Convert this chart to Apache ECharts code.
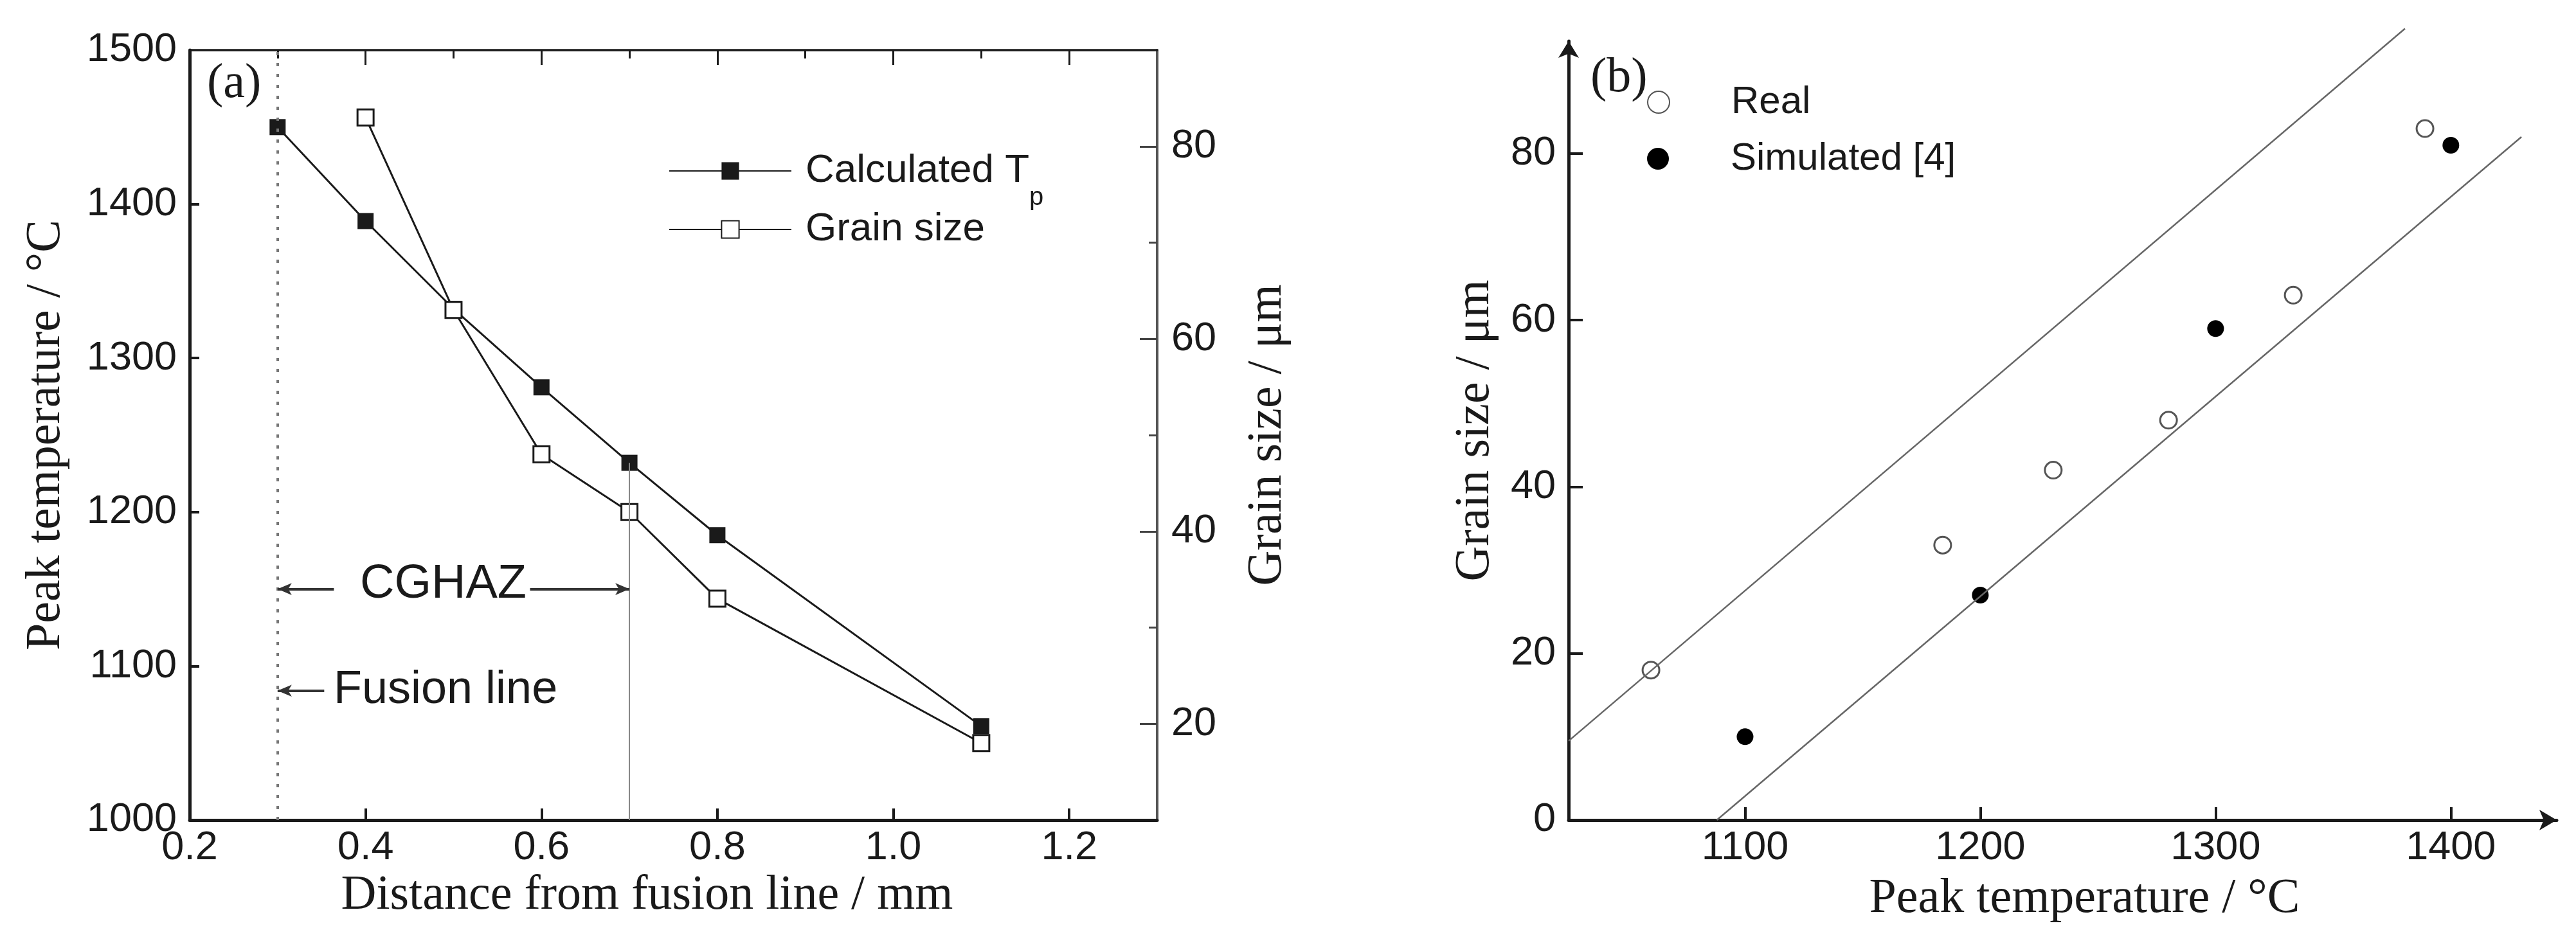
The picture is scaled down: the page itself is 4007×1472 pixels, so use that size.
<!DOCTYPE html>
<html>
<head>
<meta charset="utf-8">
<script src="https://cdn.jsdelivr.net/npm/echarts@6/dist/echarts.min.js"></script>
<style>
    html, body { margin: 0; padding: 0; background: #fff; }
    #chart-main { width: 4007px; height: 1472px; }
</style>
</head>
<body>
<div id="chart-main"></div>
<script>
    // (a) distance from fusion line vs peak temperature / grain size
    var distance = [0.3, 0.4, 0.5, 0.6, 0.7, 0.8, 1.1];
    var peakTemp = [1450, 1389, 1332, 1281, 1232, 1185, 1061];
    var grainDistance = [0.4, 0.5, 0.6, 0.7, 0.8, 1.1];
    var grainSize = [83, 63, 48, 42, 33, 18];

    // (b) peak temperature vs grain size
    var realTemp = [1060, 1184, 1231, 1280, 1333, 1389];
    var realGrain = [18, 33, 42, 48, 63, 83];
    var simTemp = [1100, 1200, 1300, 1400];
    var simGrain = [10, 27, 59, 81];
    var upperBound = [[1025, 9.5], [1380.5, 95]];
    var lowerBound = [[1088, 0], [1430, 82]];

    // tick values
    var xTicksA = [0.2, 0.4, 0.6, 0.8, 1.0, 1.2];
    var xMinorA = [0.3, 0.5, 0.7, 0.9, 1.1];
    var tempTicksA = [1000, 1100, 1200, 1300, 1400, 1500];
    var grainTicksA = [20, 40, 60, 80];
    var grainMinorA = [30, 50, 70];
    var tempTicksB = [1100, 1200, 1300, 1400];
    var grainTicksB = [0, 20, 40, 60, 80];

    var SANS = '"Liberation Sans", Arial, sans-serif';
    var SERIF = '"Liberation Serif", "Times New Roman", serif';
    var INK = '#1a1a1a';

    function zip(xs, ys) {
        return xs.map(function (x, i) { return [x, ys[i]]; });
    }
    function ticks(values, len, width, color) {
        return {show: true, inside: true, customValues: values, length: len,
            lineStyle: {color: color || INK, width: width || 3}};
    }
    function labels(values, margin, fmt) {
        return {show: true, customValues: values, margin: margin, fontFamily: SANS,
            fontSize: 63, color: INK, formatter: fmt || function (v) { return String(v); }};
    }
    function axisName(pad) {
        return {fontFamily: SERIF, fontSize: 76, color: INK, padding: pad || 0};
    }

    var option = {
        animation: false,
        backgroundColor: '#fff',
        textStyle: {fontFamily: SANS},
        grid: [
            {left: 295, top: 78, width: 1505, height: 1198, outerBoundsMode: 'none'},
            {left: 2440, top: 64, width: 1537, height: 1212, outerBoundsMode: 'none'}
        ],
        xAxis: [
            {
                gridIndex: 0, type: 'value', position: 'bottom', min: 0.2, max: 1.3,
                axisLine: {onZero: false, lineStyle: {color: INK, width: 5}},
                axisTick: ticks(xTicksA, 18, 4),
                axisLabel: labels(xTicksA, 12, function (v) { return v.toFixed(1); }),
                splitLine: {show: false},
                name: 'Distance from fusion line / mm', nameLocation: 'middle', nameGap: 69,
                nameTextStyle: axisName([0, 82, 0, 0])
            },
            {
                gridIndex: 0, type: 'value', position: 'top', min: 0.2, max: 1.3,
                axisLine: {onZero: false, lineStyle: {color: INK, width: 3.5}},
                axisTick: ticks(xTicksA.slice(1), 23, 3),
                axisLabel: {show: false}, splitLine: {show: false}
            },
            {
                gridIndex: 0, type: 'value', position: 'top', min: 0.2, max: 1.3,
                axisLine: {show: false},
                axisTick: ticks(xMinorA, 13, 3),
                axisLabel: {show: false}, splitLine: {show: false}
            },
            {
                gridIndex: 1, type: 'value', position: 'bottom', min: 1025, max: 1445,
                axisLine: {onZero: false, symbol: ['none', 'arrow'], symbolSize: [24, 27],
                    lineStyle: {color: INK, width: 5}},
                axisTick: ticks(tempTicksB, 20, 4),
                axisLabel: labels(tempTicksB, 12),
                splitLine: {show: false},
                name: 'Peak temperature / °C', nameLocation: 'middle', nameGap: 85,
                nameTextStyle: axisName([0, 0, 0, 68])
            }
        ],
        yAxis: [
            {
                gridIndex: 0, type: 'value', position: 'left', min: 1000, max: 1500,
                axisLine: {onZero: false, lineStyle: {color: INK, width: 5}},
                axisTick: ticks([1100, 1200, 1300, 1400], 15, 4),
                axisLabel: labels(tempTicksA, 20),
                splitLine: {show: false},
                name: 'Peak temperature / °C', nameLocation: 'middle', nameGap: 185, nameRotate: 90,
                nameTextStyle: axisName()
            },
            {
                gridIndex: 0, type: 'value', position: 'right', min: 10, max: 90,
                axisLine: {onZero: false, lineStyle: {color: '#555', width: 4}},
                axisTick: ticks(grainTicksA, 27, 3, '#444'),
                axisLabel: labels(grainTicksA, 22),
                splitLine: {show: false},
                name: 'Grain size / μm', nameLocation: 'middle', nameGap: 134, nameRotate: 90,
                nameTextStyle: axisName()
            },
            {
                gridIndex: 0, type: 'value', position: 'right', min: 10, max: 90,
                axisLine: {show: false},
                axisTick: ticks(grainMinorA, 13, 3, '#444'),
                axisLabel: {show: false}, splitLine: {show: false}
            },
            {
                gridIndex: 1, type: 'value', position: 'left', min: 0, max: 93.5,
                axisLine: {onZero: false, symbol: ['none', 'arrow'], symbolSize: [24, 26],
                    lineStyle: {color: INK, width: 5}},
                axisTick: ticks(grainTicksB, 22, 4),
                axisLabel: labels(grainTicksB, 20),
                splitLine: {show: false},
                name: 'Grain size / μm', nameLocation: 'middle', nameGap: 107, nameRotate: 90,
                nameTextStyle: axisName()
            }
        ],
        legend: [
            {
                data: ['Calculated Tp'], left: 1040, top: 204, padding: 0,
                itemWidth: 190, itemHeight: 34, selectedMode: false,
                formatter: function () { return '{n|Calculated T}{s|p}'; },
                textStyle: {
                    padding: [0, 0, 0, 17],
                    rich: {
                        n: {fontFamily: SANS, fontSize: 62, lineHeight: 70, color: INK},
                        s: {fontFamily: SANS, fontSize: 40, lineHeight: 40, padding: [84, 0, 0, 0], color: INK}
                    }
                }
            },
            {
                data: ['Grain size'], left: 1040, top: 322, padding: 0,
                itemWidth: 190, itemHeight: 34, selectedMode: false,
                textStyle: {fontFamily: SANS, fontSize: 62, lineHeight: 70, color: INK, padding: [0, 0, 0, 17]}
            },
            {
                data: ['Real'], left: 2562, top: 126, padding: 0,
                itemWidth: 34, itemHeight: 34, selectedMode: false,
                textStyle: {fontFamily: SANS, fontSize: 60, lineHeight: 66, color: INK, padding: [0, 0, 0, 91]}
            },
            {
                data: ['Simulated [4]'], left: 2562, top: 214, padding: 0,
                itemWidth: 34, itemHeight: 34, selectedMode: false,
                textStyle: {fontFamily: SANS, fontSize: 60, lineHeight: 66, color: INK, padding: [0, 0, 0, 91]}
            }
        ],
        graphic: [
            {type: 'text', x: 322, y: 131, style: {text: '(a)', fontFamily: SERIF, fontSize: 76, fill: INK, verticalAlign: 'middle'}},
            {type: 'text', x: 2474, y: 122, style: {text: '(b)', fontFamily: SERIF, fontSize: 76, fill: INK, verticalAlign: 'middle'}},
            {type: 'text', x: 560, y: 910, style: {text: 'CGHAZ', fontFamily: SANS, fontSize: 74, fill: INK, verticalAlign: 'middle'}},
            {type: 'text', x: 519, y: 1074, style: {text: 'Fusion line', fontFamily: SANS, fontSize: 72, fill: INK, verticalAlign: 'middle'}}
        ],
        series: [
            {
                name: 'Calculated Tp', type: 'line', xAxisIndex: 0, yAxisIndex: 0,
                data: zip(distance, peakTemp),
                symbol: 'rect', symbolSize: 25,
                itemStyle: {color: INK, opacity: 1},
                lineStyle: {color: INK, width: 3},
                markLine: {
                    silent: true, symbol: ['none', 'none'], symbolSize: [14, 22],
                    label: {show: false},
                    lineStyle: {color: '#333', width: 4, type: 'solid'},
                    data: [
                        [{coord: [0.3, 1000], lineStyle: {color: '#777', width: 4, type: [5, 12]}}, {coord: [0.3, 1500]}],
                        [{coord: [0.7, 1000], lineStyle: {color: '#888', width: 2, type: 'solid'}}, {coord: [0.7, 1232]}],
                        [{coord: [0.364, 1150]}, {coord: [0.3, 1150], symbol: 'arrow'}],
                        [{coord: [0.587, 1150]}, {coord: [0.7, 1150], symbol: 'arrow'}],
                        [{coord: [0.353, 1084]}, {coord: [0.3, 1084], symbol: 'arrow'}]
                    ]
                }
            },
            {
                name: 'Grain size', type: 'line', xAxisIndex: 0, yAxisIndex: 1,
                data: zip(grainDistance, grainSize),
                symbol: 'rect', symbolSize: 25,
                itemStyle: {color: '#fff', borderColor: INK, borderWidth: 3, opacity: 1},
                lineStyle: {color: INK, width: 3}
            },
            {
                name: 'Real', type: 'scatter', xAxisIndex: 3, yAxisIndex: 3,
                data: zip(realTemp, realGrain),
                symbol: 'circle', symbolSize: 26,
                itemStyle: {color: '#fff', borderColor: '#555', borderWidth: 3, opacity: 1}
            },
            {
                name: 'Simulated [4]', type: 'scatter', xAxisIndex: 3, yAxisIndex: 3,
                data: zip(simTemp, simGrain),
                symbol: 'circle', symbolSize: 26,
                itemStyle: {color: '#000', opacity: 1}
            },
            {
                name: 'upper', type: 'line', xAxisIndex: 3, yAxisIndex: 3,
                data: upperBound, symbol: 'none', clip: false, silent: true,
                lineStyle: {color: '#666', width: 2.5}
            },
            {
                name: 'lower', type: 'line', xAxisIndex: 3, yAxisIndex: 3,
                data: lowerBound, symbol: 'none', clip: false, silent: true,
                lineStyle: {color: '#666', width: 2.5}
            }
        ]
    };

    var myChart = echarts.init(document.getElementById('chart-main'));
    myChart.setOption(option);
</script>
</body>
</html>
